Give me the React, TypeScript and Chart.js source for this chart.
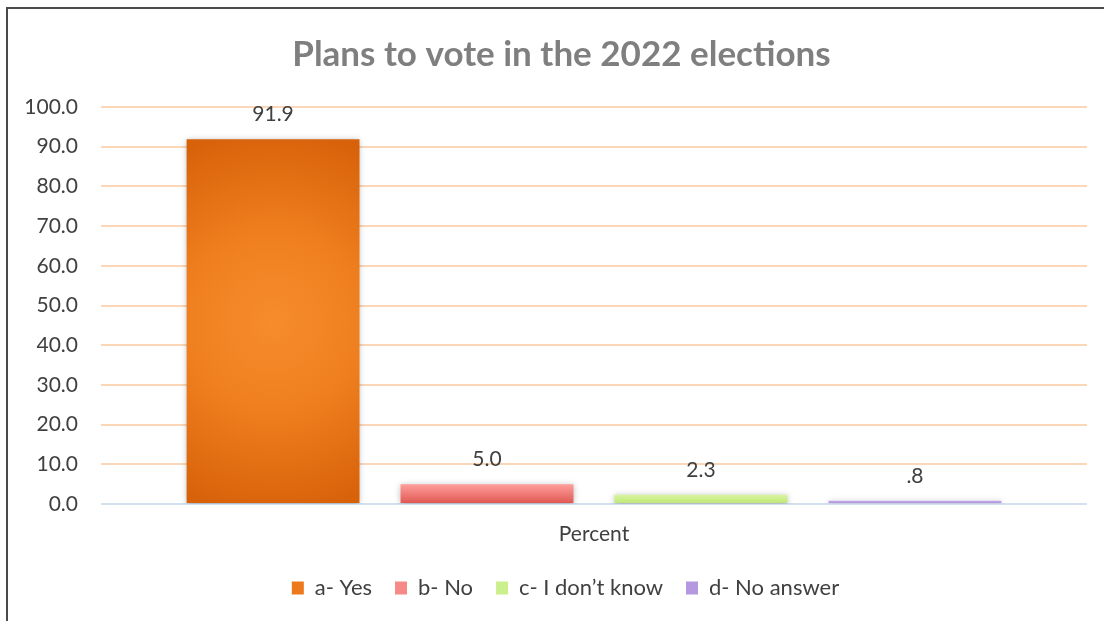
import React, { useEffect, useRef } from "react";
import { Chart, registerables } from "chart.js";

Chart.register(...registerables);

// ---- data ----
const titleText = "Plans to vote in the 2022 elections";
const categories = ["Percent"];
const seriesLabels = ["a- Yes", "b- No", "c- I don\u2019t know", "d- No answer"];
const seriesValues = [91.9, 5.0, 2.3, 0.8];
const yMin = 0;
const yMax = 100;
const yStep = 10;

// ---- styles ----
const FONT = "Lato, 'Open Sans', sans-serif";
const TEXT = "#404040";
const CAT_PCT = 0.868;
const BAR_PCT = 0.808;
const solidColors = ["#ec7a1c", "#f58a86", "#cbef8c", "#b598df"];
const gradTop = ["#d8620a", "#ff9f9b", "#d8f69f", "#c6abed"];
const gradBottom = ["#d8620a", "#df5550", "#bde575", "#a787d6"];

function formatLabel(v: number): string {
  const s = v.toFixed(1);
  return Math.abs(v) < 1 ? s.replace(/^0/, "") : s;
}

function barFill(i: number) {
  return (ctx: any) => {
    const chart = ctx.chart;
    const area = chart.chartArea;
    if (!area || ctx.type !== "data") return solidColors[i];
    const ys = chart.scales.y;
    const xs = chart.scales.x;
    const v = ctx.raw as number;
    const top = ys.getPixelForValue(v);
    const bottom = ys.getPixelForValue(0);
    const c2d = chart.ctx as CanvasRenderingContext2D;
    if (i === 0) {
      const catW = ((xs.right - xs.left) / categories.length) * CAT_PCT;
      const slot = catW / seriesValues.length;
      const cx = xs.getPixelForValue(ctx.dataIndex) - catW / 2 + slot * (i + 0.5);
      const cy = (top + bottom) / 2;
      const r = Math.max((bottom - top) / 2, slot / 2) * 1.05;
      const g = c2d.createRadialGradient(cx, cy, 0, cx, cy, r);
      g.addColorStop(0, "#f68c2c");
      g.addColorStop(0.45, "#f0801f");
      g.addColorStop(1, "#d8620a");
      return g;
    }
    const g = c2d.createLinearGradient(0, top, 0, bottom);
    g.addColorStop(0, gradTop[i]);
    g.addColorStop(1, gradBottom[i]);
    return g;
  };
}

const shadowPlugin = {
  id: "barShadow",
  beforeDatasetDraw(chart: any) {
    const c = chart.ctx;
    c.save();
    c.shadowColor = "rgba(0,0,0,0.28)";
    c.shadowBlur = 6;
    c.shadowOffsetX = 0;
    c.shadowOffsetY = 1;
  },
  afterDatasetDraw(chart: any) {
    chart.ctx.restore();
  },
};

const valueLabelPlugin = {
  id: "valueLabels",
  afterDatasetsDraw(chart: any) {
    const c = chart.ctx;
    c.save();
    c.font = `21px ${FONT}`;
    c.fillStyle = TEXT;
    c.textAlign = "center";
    c.textBaseline = "middle";
    chart.data.datasets.forEach((ds: any, di: number) => {
      const meta = chart.getDatasetMeta(di);
      meta.data.forEach((bar: any, idx: number) => {
        c.fillText(formatLabel(ds.data[idx]), bar.x, bar.y - 25);
      });
    });
    c.restore();
  },
};

const boxShiftPlugin = {
  id: "boxShift",
  afterLayout(chart: any) {
    const lg = chart.legend;
    if (lg) {
      lg.left += 22;
      lg.right += 22;
    }
    const tt = chart.titleBlock;
    if (tt) {
      tt.left += 18;
      tt.right += 18;
    }
  },
};

export default function App() {
  const canvasRef = useRef<HTMLCanvasElement | null>(null);

  useEffect(() => {
    if (!canvasRef.current) return;
    const chart = new Chart(canvasRef.current, {
      type: "bar",
      data: {
        labels: categories,
        datasets: seriesLabels.map((label, i) => ({
          label,
          data: [seriesValues[i]],
          backgroundColor: barFill(i),
          borderWidth: 0,
          categoryPercentage: CAT_PCT,
          barPercentage: BAR_PCT,
        })),
      },
      options: {
        responsive: false,
        animation: false,
        events: [],
        layout: { padding: { left: 0, right: 17, top: 0, bottom: 12 } },
        plugins: {
          title: {
            display: true,
            text: titleText,
            color: "#7f7f7f",
            font: { family: FONT, size: 35, weight: "bold", lineHeight: 1.2 },
            padding: { top: 34, bottom: 31 },
          },
          legend: {
            display: true,
            position: "bottom",
            labels: {
              boxWidth: 12,
              boxHeight: 13,
              padding: 23,
              color: TEXT,
              font: { family: FONT, size: 22 },
              generateLabels: (chart: any) =>
                chart.data.datasets.map((ds: any, i: number) => ({
                  text: ds.label,
                  fillStyle: solidColors[i],
                  strokeStyle: solidColors[i],
                  lineWidth: 0,
                  fontColor: TEXT,
                  hidden: false,
                  datasetIndex: i,
                })),
            },
          },
          tooltip: { enabled: false },
        },
        scales: {
          x: {
            type: "category",
            grid: { display: false, drawTicks: false },
            border: { display: false },
            ticks: { color: TEXT, font: { family: FONT, size: 21 }, padding: 18 },
            afterFit(scale: any) {
              scale.height = 50;
            },
          },
          y: {
            min: yMin,
            max: yMax,
            border: { display: false },
            grid: {
              drawTicks: false,
              lineWidth: 2,
              color: (ctx: any) => (ctx.tick && ctx.tick.value === 0 ? "#d3e0f0" : "#fbd6b7"),
            },
            ticks: {
              stepSize: yStep,
              color: TEXT,
              font: { family: FONT, size: 21 },
              padding: 23,
              callback: (v: any) => Number(v).toFixed(1),
            },
            afterFit(scale: any) {
              scale.width = 101;
            },
          },
        },
      },
      plugins: [shadowPlugin, valueLabelPlugin, boxShiftPlugin],
    } as any);
    return () => chart.destroy();
  }, []);

  return (
    <div
      style={{
        position: "fixed",
        left: 0,
        top: 0,
        width: 1104,
        height: 621,
        background: "#ffffff",
        overflow: "hidden",
      }}
    >
      <canvas
        ref={canvasRef}
        width={1104}
        height={621}
        style={{ position: "absolute", left: 0, top: 0, width: 1104, height: 621 }}
      />
      <div
        style={{
          position: "absolute",
          left: 6,
          top: 7,
          width: 1200,
          height: 700,
          borderLeft: "2px solid #4a4a4a",
          borderTop: "2px solid #4a4a4a",
          pointerEvents: "none",
        }}
      />
    </div>
  );
}
